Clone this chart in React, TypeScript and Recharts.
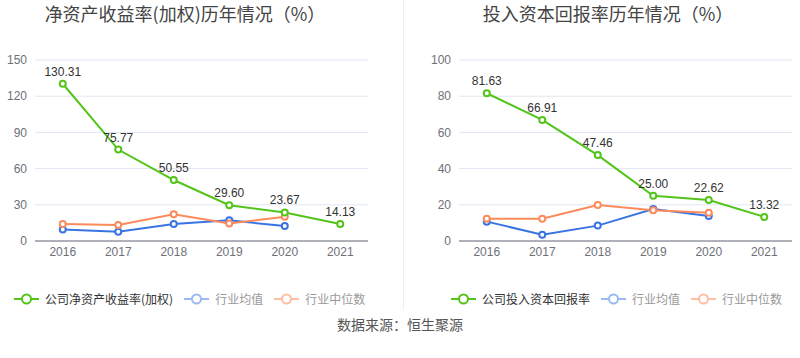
import { LineChart, Line, XAxis, YAxis, CartesianGrid, LabelList } from "recharts";

// values
const years = ["2016", "2017", "2018", "2019", "2020", "2021"];
const roeCompany = [130.31, 75.77, 50.55, 29.6, 23.67, 14.13];
const roeIndustryMean = [9.5, 7.6, 14.1, 17.1, 12.4, null];
const roeIndustryMedian = [14.0, 13.2, 22.1, 14.6, 20.1, null];
const roicCompany = [81.63, 66.91, 47.46, 25.0, 22.62, 13.32];
const roicIndustryMean = [10.7, 3.5, 8.5, 17.7, 13.8, null];
const roicIndustryMedian = [12.3, 12.3, 19.9, 17.0, 15.6, null];
const roeTicks = [0, 30, 60, 90, 120, 150];
const roicTicks = [0, 20, 40, 60, 80, 100];

const GREEN = "#52c41a";
const BLUE = "#3a74e2";
const ORANGE = "#fd8a5c";
const FONT = "'Liberation Sans', Arial, 'Noto Sans CJK SC', sans-serif";
const CJK = "'Noto Sans CJK SC', sans-serif";

function buildRows(a: number[], b: (number | null)[], c: (number | null)[]) {
  return years.map((year, i) => ({ year, company: a[i], mean: b[i], median: c[i] }));
}

interface PanelProps {
  left: number;
  title: string;
  titleCenter: number;
  legendLeft: number;
  companyLabel: string;
  data: ReturnType<typeof buildRows>;
  ticks: number[];
  yWidth: number;
  rightMargin: number;
}

function LegendIcon({ color }: { color: string }) {
  return (
    <svg width={25} height={12} style={{ marginRight: 6 }}>
      <line x1={0} y1={6} x2={25} y2={6} stroke={color} strokeWidth={2} />
      <circle cx={12.5} cy={6} r={4.5} fill="#fff" stroke={color} strokeWidth={2} />
    </svg>
  );
}

function Panel({ left, title, titleCenter, legendLeft, companyLabel, data, ticks, yWidth, rightMargin }: PanelProps) {
  const dot = (color: string) => ({ r: 3, fill: "#fff", stroke: color, strokeWidth: 2 });
  const plotWidth = 400 - yWidth - rightMargin;
  const pad = plotWidth / years.length / 2;
  const items = [
    { label: companyLabel, icon: GREEN, text: "#333" },
    { label: "行业均值", icon: "#9bb9f2", text: "#999" },
    { label: "行业中位数", icon: "#ffbea3", text: "#999" },
  ];
  return (
    <div style={{ position: "absolute", left, top: 0, width: 400, height: 310 }}>
      <div
        style={{
          position: "absolute",
          top: 1,
          left: titleCenter - 200,
          width: 400,
          textAlign: "center",
          fontFamily: CJK,
          fontSize: 18,
          color: "#444",
          lineHeight: "24px",
        }}
      >
        {title}
      </div>
      <LineChart
        width={400}
        height={270}
        data={data}
        margin={{ top: 60, right: rightMargin, bottom: 0, left: 0 }}
        style={{ position: "absolute", top: 0, left: 0 }}
      >
        <CartesianGrid vertical={false} stroke="#e0e6f1" />
        <XAxis
          dataKey="year"
          height={29}
          padding={{ left: pad, right: pad }}
          tickLine={false}
          tickSize={4}
          axisLine={{ stroke: "#6e7079" }}
          tick={{ fontSize: 12, fill: "#6e7079", fontFamily: FONT }}
        />
        <YAxis
          width={yWidth}
          domain={[ticks[0], ticks[ticks.length - 1]]}
          ticks={ticks}
          axisLine={false}
          tickLine={false}
          tick={{ fontSize: 12, fill: "#6e7079", fontFamily: FONT }}
        />
        <Line
          dataKey="mean"
          stroke={BLUE}
          strokeWidth={2}
          dot={dot(BLUE)}
          isAnimationActive={false}
        />
        <Line
          dataKey="median"
          stroke={ORANGE}
          strokeWidth={2}
          dot={dot(ORANGE)}
          isAnimationActive={false}
        />
        <Line
          dataKey="company"
          stroke={GREEN}
          strokeWidth={2}
          dot={dot(GREEN)}
          isAnimationActive={false}
        >
          <LabelList
            dataKey="company"
            position="top"
            offset={8}
            formatter={(v: number) => v.toFixed(2)}
            style={{ fontSize: 12, fill: "#333", fontFamily: FONT }}
          />
        </Line>
      </LineChart>
      <div
        style={{
          position: "absolute",
          top: 290,
          left: legendLeft,
          display: "flex",
          alignItems: "center",
          fontFamily: CJK,
          fontSize: 12,
          lineHeight: "18px",
          whiteSpace: "nowrap",
        }}
      >
        {items.map((it) => (
          <div key={it.label} style={{ display: "flex", alignItems: "center", marginRight: 11, color: it.text }}>
            <LegendIcon color={it.icon} />
            {it.label}
          </div>
        ))}
      </div>
    </div>
  );
}

export default function App() {
  const roeRows = buildRows(roeCompany, roeIndustryMean, roeIndustryMedian);
  const roicRows = buildRows(roicCompany, roicIndustryMean, roicIndustryMedian);
  return (
    <div style={{ position: "absolute", left: 0, top: 0, width: 800, height: 358, background: "#fff" }}>
      <Panel
        left={0}
        title="净资产收益率(加权)历年情况（%）"
        titleCenter={185}
        legendLeft={14}
        companyLabel="公司净资产收益率(加权)"
        data={roeRows}
        ticks={roeTicks}
        yWidth={35}
        rightMargin={32}
      />
      <Panel
        left={400}
        title="投入资本回报率历年情况（%）"
        titleCenter={208}
        legendLeft={51}
        companyLabel="公司投入资本回报率"
        data={roicRows}
        ticks={roicTicks}
        yWidth={59}
        rightMargin={8}
      />
      <div style={{ position: "absolute", left: 403, top: 0, width: 1, height: 310, background: "#eee" }} />
      <div
        style={{
          position: "absolute",
          top: 314,
          left: 0,
          width: 800,
          textAlign: "center",
          fontFamily: CJK,
          fontSize: 14,
          color: "#555",
          lineHeight: "20px",
        }}
      >
        数据来源：恒生聚源
      </div>
    </div>
  );
}
